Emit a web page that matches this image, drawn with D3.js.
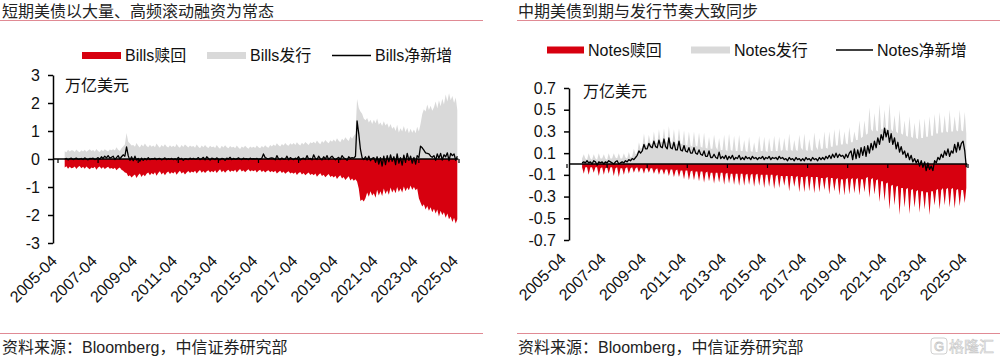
<!DOCTYPE html>
<html><head><meta charset="utf-8">
<script src="https://cdn.jsdelivr.net/npm/d3@7"></script>
<style>
body{margin:0;background:#fff}
svg{display:block}
text{font-family:"Liberation Sans",Arial,"Noto Sans CJK SC",sans-serif;}
</style>
</head><body>
<svg id="c" width="1000" height="356"></svg>
<script>
// ---------------- DATA (万亿美元, monthly) ----------------
// Bills: 2005-08 .. 2025-03
const billsStart = [2005, 8];
const billsIssue = [
 .28,.24,.33,.27,.31,
 .30,.25,.34,.28,.24,.31,.27,.33,.26,.30,.35,.29,
 .32,.26,.36,.29,.25,.33,.28,.35,.30,.27,.34,.31,
 .35,.30,.42,.33,.29,.38,.45,.52,.93,.62,.55,.48,
 .50,.44,.57,.47,.41,.52,.45,.55,.46,.42,.51,.44,
 .48,.42,.55,.46,.40,.50,.44,.53,.45,.41,.49,.43,
 .47,.42,.54,.45,.40,.50,.43,.52,.46,.41,.48,.44,
 .46,.40,.52,.44,.38,.48,.42,.50,.43,.39,.47,.42,
 .45,.39,.50,.42,.37,.47,.41,.49,.42,.38,.46,.41,
 .44,.38,.48,.41,.36,.45,.40,.47,.41,.37,.45,.40,
 .44,.39,.48,.42,.38,.46,.41,.49,.43,.40,.50,.45,
 .52,.46,.56,.49,.45,.54,.48,.57,.50,.47,.56,.51,
 .57,.50,.60,.53,.48,.58,.52,.61,.55,.50,.60,.56,
 .62,.55,.66,.58,.53,.64,.58,.68,.61,.56,.67,.62,
 .70,.62,.74,.65,.60,.72,.66,.78,.70,.64,.80,.72,
 .82,.90,2.14,1.82,1.70,1.62,1.45,1.38,1.46,1.30,1.40,1.25,
 1.40,1.28,1.45,1.22,1.30,1.18,1.35,1.20,1.28,1.12,1.25,1.08,
 1.15,1.00,1.22,.95,1.10,.98,1.18,.96,1.12,.92,1.08,.94,
 1.05,.92,1.15,.98,1.25,1.60,1.78,1.70,1.95,1.75,1.90,1.72,
 1.85,2.05,1.80,2.10,1.88,2.15,1.95,2.30,2.05,2.35,2.10,2.25,
 2.00,2.20,1.75
];
const billsRedeem = [
 -.30,-.26,-.35,-.28,-.33,
 -.31,-.27,-.36,-.29,-.25,-.33,-.28,-.35,-.27,-.32,-.37,-.30,
 -.33,-.28,-.38,-.30,-.27,-.35,-.29,-.36,-.31,-.28,-.35,-.32,
 -.36,-.31,-.40,-.34,-.30,-.38,-.42,-.48,-.50,-.62,-.58,-.66,
 -.60,-.55,-.68,-.58,-.52,-.64,-.55,-.62,-.53,-.48,-.58,-.50,
 -.55,-.47,-.60,-.50,-.44,-.55,-.48,-.58,-.49,-.45,-.54,-.47,
 -.52,-.45,-.56,-.48,-.42,-.52,-.46,-.55,-.48,-.43,-.50,-.45,
 -.48,-.42,-.52,-.45,-.39,-.49,-.43,-.50,-.44,-.40,-.48,-.43,
 -.47,-.40,-.50,-.43,-.37,-.47,-.41,-.49,-.42,-.38,-.46,-.41,
 -.45,-.38,-.48,-.41,-.36,-.45,-.40,-.47,-.41,-.37,-.45,-.40,
 -.44,-.39,-.48,-.42,-.38,-.46,-.41,-.48,-.43,-.40,-.47,-.43,
 -.47,-.42,-.52,-.46,-.42,-.50,-.45,-.53,-.47,-.44,-.52,-.48,
 -.53,-.47,-.57,-.50,-.46,-.55,-.50,-.58,-.53,-.48,-.57,-.53,
 -.58,-.52,-.63,-.56,-.51,-.61,-.56,-.65,-.59,-.54,-.64,-.60,
 -.66,-.60,-.71,-.63,-.58,-.70,-.64,-.75,-.68,-.62,-.77,-.70,
 -.78,-.72,-.80,-1.05,-1.50,-1.45,-1.52,-1.40,-1.20,-1.35,-1.15,-1.30,
 -1.22,-1.38,-1.10,-1.30,-1.15,-1.32,-1.05,-1.25,-1.12,-1.28,-1.02,-1.20,
 -1.08,-1.22,-1.00,-1.18,-1.05,-1.20,-.98,-1.15,-1.02,-1.12,-.95,-1.10,
 -1.00,-1.12,-1.05,-1.40,-1.55,-1.70,-1.62,-1.80,-1.68,-1.85,-1.72,-1.90,
 -1.78,-1.95,-1.80,-2.05,-1.85,-2.00,-1.90,-2.10,-1.95,-2.15,-2.05,-2.25,
 -2.10,-2.30,-2.15
];
const billsNet = [
 .00,.02,-.03,.01,.03,
 -.02,.01,.03,-.01,.00,.02,-.02,.04,.00,-.03,.02,.01,
 .03,-.02,.01,.05,-.01,.08,.02,.10,.04,.12,.03,.06,
 .10,-.02,.05,.12,.00,.08,.15,.10,.43,.12,-.05,.08,
 -.06,.10,-.04,.02,-.08,.03,-.05,.02,-.03,.05,-.02,.01,
 .00,.03,-.02,.01,.02,-.03,.00,.04,-.02,.01,-.01,.02,
 -.02,.01,-.03,.06,-.01,.02,-.05,.01,.00,-.02,.03,-.01,
 .02,-.01,.00,.05,-.02,.01,.06,-.03,.08,.02,-.04,.03,
 .01,-.02,.04,.00,-.03,.02,.01,-.05,.03,.00,.06,-.02,
 .02,-.01,.00,.04,.00,-.02,.03,.00,.01,-.02,.03,.00,
 .01,.00,.02,-.01,.00,.03,.18,.05,.02,.00,.03,.04,
 .02,-.03,.12,.01,-.02,.04,-.01,.00,.10,-.03,.05,.01,
 -.02,.03,.00,.08,-.04,.01,.03,-.02,.12,.00,.02,-.03,
 .15,.02,-.02,.10,.01,-.03,.08,.00,.12,-.02,.05,.10,
 .03,-.03,.02,.06,-.02,.12,.04,.01,-.05,.08,.02,.05,
 .03,.10,1.36,.90,.35,.05,-.02,.08,-.04,.10,-.06,.02,
 .05,-.12,.08,-.18,.05,-.25,.10,-.20,.12,-.10,.15,-.08,
 .08,-.20,.18,-.15,.05,-.22,.14,-.12,.20,-.05,.10,-.15,
 .06,-.18,.12,.05,.46,.40,.32,.22,.20,.18,.10,.06,
 .12,-.05,.18,.03,.20,-.04,.15,.08,.22,-.06,.20,.12,
 .18,-.05,.10
];
// Notes: 2006-01 .. 2025-03
const notesStart = [2006, 1];
const notesIssue = [
 .05,.09,.05,.04,.10,.05,.04,.09,.05,.04,.10,.05,
 .05,.09,.05,.04,.10,.05,.05,.10,.06,.05,.10,.05,
 .05,.10,.06,.05,.11,.06,.07,.14,.09,.10,.20,.14,
 .15,.28,.18,.17,.27,.19,.18,.30,.20,.19,.32,.21,
 .20,.33,.21,.19,.35,.20,.19,.32,.19,.18,.33,.19,
 .18,.31,.18,.17,.30,.17,.16,.30,.17,.16,.29,.16,
 .15,.29,.15,.14,.25,.14,.14,.27,.16,.13,.24,.13,
 .13,.27,.13,.12,.28,.13,.12,.26,.12,.12,.27,.12,
 .12,.22,.12,.11,.25,.12,.11,.20,.11,.11,.26,.12,
 .12,.25,.12,.11,.24,.12,.12,.26,.12,.12,.25,.12,
 .13,.24,.13,.12,.28,.13,.12,.22,.13,.12,.27,.15,
 .13,.28,.13,.12,.23,.13,.12,.29,.16,.13,.24,.14,
 .14,.30,.15,.14,.30,.16,.16,.32,.17,.17,.33,.18,
 .18,.30,.19,.18,.34,.20,.20,.30,.22,.22,.40,.24,
 .25,.40,.27,.28,.52,.32,.30,.47,.31,.30,.55,.32,
 .32,.50,.33,.31,.56,.32,.30,.45,.30,.28,.50,.28,
 .27,.40,.26,.25,.44,.25,.24,.38,.24,.23,.42,.24,
 .24,.42,.25,.25,.44,.26,.26,.46,.28,.28,.48,.29,
 .29,.45,.30,.29,.50,.30,.30,.44,.31,.30,.50,.31,
 .30,.48,.28
];
const notesRedeem = [
 -.03,-.09,-.03,-.03,-.10,-.03,-.03,-.08,-.03,-.03,-.11,-.04,
 -.03,-.10,-.04,-.03,-.09,-.03,-.03,-.11,-.04,-.03,-.12,-.04,
 -.04,-.10,-.04,-.03,-.09,-.04,-.03,-.08,-.04,-.03,-.08,-.04,
 -.04,-.09,-.04,-.04,-.08,-.04,-.04,-.09,-.05,-.04,-.10,-.05,
 -.05,-.10,-.05,-.05,-.11,-.05,-.05,-.12,-.06,-.05,-.12,-.06,
 -.06,-.14,-.06,-.06,-.15,-.07,-.06,-.15,-.07,-.07,-.16,-.07,
 -.07,-.17,-.08,-.07,-.16,-.08,-.08,-.18,-.08,-.08,-.17,-.08,
 -.08,-.19,-.09,-.08,-.18,-.09,-.09,-.19,-.09,-.09,-.20,-.09,
 -.09,-.20,-.10,-.09,-.19,-.10,-.09,-.21,-.10,-.09,-.20,-.10,
 -.10,-.22,-.10,-.10,-.21,-.10,-.10,-.23,-.11,-.10,-.22,-.11,
 -.11,-.20,-.11,-.11,-.25,-.11,-.11,-.21,-.12,-.11,-.26,-.12,
 -.12,-.26,-.12,-.11,-.25,-.12,-.12,-.27,-.12,-.12,-.26,-.13,
 -.13,-.24,-.13,-.12,-.28,-.13,-.13,-.25,-.14,-.13,-.29,-.14,
 -.14,-.29,-.14,-.13,-.28,-.14,-.13,-.27,-.14,-.13,-.29,-.14,
 -.14,-.26,-.13,-.12,-.31,-.14,-.13,-.28,-.15,-.14,-.35,-.16,
 -.16,-.34,-.18,-.17,-.42,-.20,-.19,-.38,-.21,-.20,-.47,-.22,
 -.22,-.40,-.23,-.22,-.46,-.24,-.23,-.40,-.25,-.24,-.45,-.25,
 -.25,-.42,-.26,-.26,-.47,-.25,-.25,-.38,-.24,-.23,-.42,-.24,
 -.22,-.38,-.23,-.22,-.40,-.23,-.22,-.41,-.24,-.23,-.39,-.24,
 -.24,-.36,-.22
];
const notesNet = [
 .01,.02,.01,.03,.01,.02,.00,.03,.02,-.01,.02,.01,
 .02,.00,.02,.01,.03,.02,.01,.00,.02,.03,.00,.01,
 .02,.01,.03,.02,.04,.03,.05,.04,.06,.08,.12,.10,
 .12,.18,.14,.14,.19,.16,.15,.21,.16,.15,.22,.16,
 .15,.23,.16,.14,.24,.15,.14,.20,.13,.13,.21,.13,
 .12,.17,.12,.11,.15,.10,.10,.15,.10,.09,.13,.09,
 .08,.12,.07,.07,.12,.06,.06,.09,.06,.05,.11,.05,
 .07,.05,.08,.04,.07,.05,.08,.04,.06,.05,.08,.04,
 .06,.04,.07,.05,.06,.04,.07,.05,.06,.04,.06,.05,
 .07,.04,.06,.05,.07,.04,.06,.05,.06,.04,.07,.05,
 .06,.04,.05,.03,.06,.04,.05,.03,.06,.04,.05,.03,
 .05,.03,.06,.04,.05,.03,.06,.04,.05,.03,.06,.04,
 .06,.04,.07,.05,.08,.05,.09,.06,.10,.06,.09,.07,
 .08,.05,.09,.06,.10,.12,.04,.14,.05,.13,.06,.15,
 .08,.16,.07,.17,.10,.19,.13,.21,.15,.24,.18,.27,
 .22,.33,.25,.31,.20,.28,.18,.24,.14,.20,.11,.16,
 .09,.12,.06,.10,.04,.08,.02,.05,.01,.04,-.02,.03,
 -.03,.02,-.06,.01,-.05,-.02,-.06,.03,.01,.06,.04,.09,
 .06,.12,.08,.14,.07,.12,.10,.18,.11,.20,.13,.19,
 .21,.12,-.03
];
const xTickLabels = ["2005-04","2007-04","2009-04","2011-04","2013-04","2015-04","2017-04","2019-04","2021-04","2023-04","2025-04"];
const billsYTicks = [3,2,1,0,-1,-2,-3];
const notesYTicks = [0.7,0.5,0.3,0.1,-0.1,-0.3,-0.5,-0.7];
const titles = ["短期美债以大量、高频滚动融资为常态","中期美债到期与发行节奏大致同步"];
const billsLegend = ["Bills赎回","Bills发行","Bills净新增"];
const notesLegend = ["Notes赎回","Notes发行","Notes净新增"];
const unitLabel = "万亿美元";
const sourceText = "资料来源：Bloomberg，中信证券研究部";

// ---------------- DRAW ----------------
const RED = "#d7000f", GREY = "#d9d9d9", LINE = "#e08a94";
const svg = d3.select("#c");
const parseYM = d3.timeParse("%Y-%m");

function monthSeries(start, n) {
  const s = new Date(start[0], start[1] - 1, 1);
  return d3.range(n).map(i => d3.timeMonth.offset(s, i));
}

function panel(o) {
  const g = svg.append("g");
  g.append("text").attr("x", o.titleX).attr("y", 17).attr("font-size", 16).attr("fill", "#222").text(o.title);
  g.append("line").attr("x1", o.ruleX[0]).attr("x2", o.ruleX[1]).attr("y1", 20.5).attr("y2", 20.5)
    .attr("stroke", LINE).attr("stroke-width", 1);
  g.append("line").attr("x1", o.ruleX[0]).attr("x2", o.ruleX[1]).attr("y1", 333.5).attr("y2", 333.5)
    .attr("stroke", LINE).attr("stroke-width", 1);
  g.append("text").attr("x", o.titleX).attr("y", 353).attr("font-size", 16).attr("fill", "#222").text(sourceText);

  const ly = o.legendY;
  const L = o.legend;
  g.append("rect").attr("x", L[0]).attr("y", ly - 3.5).attr("width", L[1] - L[0]).attr("height", 7).attr("fill", RED);
  g.append("text").attr("x", L[1] + 4).attr("y", ly + 5.5).attr("font-size", 16).attr("fill", "#111").text(o.legendText[0]);
  g.append("rect").attr("x", L[2]).attr("y", ly - 3.5).attr("width", L[3] - L[2]).attr("height", 7).attr("fill", GREY);
  g.append("text").attr("x", L[3] + 4).attr("y", ly + 5.5).attr("font-size", 16).attr("fill", "#111").text(o.legendText[1]);
  g.append("line").attr("x1", L[4]).attr("x2", L[5]).attr("y1", ly).attr("y2", ly).attr("stroke", "#000").attr("stroke-width", 1.3);
  g.append("text").attr("x", L[5] + 4).attr("y", ly + 5.5).attr("font-size", 16).attr("fill", "#111").text(o.legendText[2]);

  const dates = monthSeries(o.start, o.issue.length);
  const x = d3.scaleTime().domain([parseYM("2005-04"), parseYM("2025-04")]).range(o.xRange);
  const y = d3.scaleLinear().domain([o.yTicks[o.yTicks.length - 1], o.yTicks[0]]).range(o.yRange);

  const area = d3.area().x((d, i) => x(dates[i])).y0(y(0)).y1(d => y(d));
  g.append("path").datum(o.issue).attr("d", area).attr("fill", GREY);
  g.append("path").datum(o.redeem).attr("d", area).attr("fill", RED);

  const xEnd = x(dates[dates.length - 1]);
  g.append("line").attr("x1", o.yAxisX).attr("x2", xEnd + 1).attr("y1", y(0)).attr("y2", y(0))
    .attr("stroke", "#000").attr("stroke-width", 1.5);
  const tickDates = xTickLabels.map(parseYM);
  g.selectAll(null).data(tickDates).join("line")
    .attr("x1", d => x(d)).attr("x2", d => x(d)).attr("y1", y(0)).attr("y2", y(0) + 4)
    .attr("stroke", "#000").attr("stroke-width", 1.2);

  const line = d3.line().x((d, i) => x(dates[i])).y(d => y(d));
  g.append("path").datum(o.net).attr("d", line).attr("fill", "none").attr("stroke", "#000")
    .attr("stroke-width", 1.3).attr("stroke-linejoin", "round");

  const ya = g.append("g").attr("transform", `translate(${o.yAxisX},0)`)
    .call(d3.axisLeft(y).tickValues(o.yTicks).tickSize(5).tickSizeOuter(0).tickPadding(8).tickFormat(o.fmt));
  ya.select(".domain").attr("stroke", "#000").attr("stroke-width", 1.5);
  ya.selectAll(".tick line").attr("stroke", "#000").attr("stroke-width", 1.5);
  ya.selectAll(".tick text").attr("font-size", 16).attr("fill", "#111")
    .style("font-family", '"Liberation Sans", Arial, sans-serif');

  g.append("text").attr("x", o.unit[0]).attr("y", o.unit[1]).attr("font-size", 16).attr("fill", "#111").text(unitLabel);

  g.selectAll(null).data(tickDates).join("text")
    .attr("transform", d => `translate(${x(d)},${o.labelY}) rotate(-45)`)
    .attr("text-anchor", "end").attr("font-size", 16).attr("fill", "#111")
    .text(d => d3.timeFormat("%Y-%m")(d));
}

panel({
  title: titles[0], titleX: 2, ruleX: [0, 483],
  legendY: 55.5, legend: [82, 121, 207, 246, 332, 371], legendText: billsLegend,
  start: billsStart, issue: billsIssue, redeem: billsRedeem, net: billsNet,
  xRange: [58, 459], yRange: [243, 75], yTicks: billsYTicks, yAxisX: 53,
  fmt: d => String(d), unit: [65, 91], labelY: 262
});
panel({
  title: titles[1], titleX: 518, ruleX: [517, 1000],
  legendY: 50, legend: [547, 584, 691, 730, 836, 873], legendText: notesLegend,
  start: notesStart, issue: notesIssue, redeem: notesRedeem, net: notesNet,
  xRange: [567, 968], yRange: [240, 88], yTicks: notesYTicks, yAxisX: 569,
  fmt: d => d.toFixed(1), unit: [583, 97], labelY: 260
});

const wm = svg.append("g").attr("opacity", 0.55);
wm.append("rect").attr("x", 931).attr("y", 338).attr("width", 16).attr("height", 16).attr("rx", 3)
  .attr("fill", "none").attr("stroke", "#aaa").attr("stroke-width", 1);
wm.append("text").attr("x", 939).attr("y", 351).attr("text-anchor", "middle").attr("font-size", 13)
  .attr("fill", "none").attr("stroke", "#999").attr("stroke-width", 0.8).text("G");
wm.append("text").attr("x", 949).attr("y", 352).attr("font-size", 15)
  .attr("fill", "#f2f2f2").attr("stroke", "#999").attr("stroke-width", 0.6).text("格隆汇");
</script>
</body></html>
